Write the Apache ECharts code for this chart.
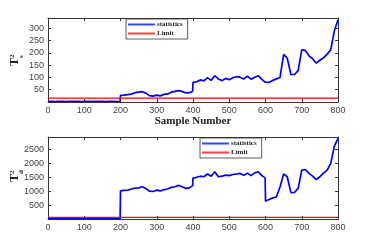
<!DOCTYPE html>
<html><head><meta charset="utf-8">
<script src="https://cdn.jsdelivr.net/npm/echarts@6/dist/echarts.min.js"></script>
<style>html,body{margin:0;padding:0;background:#fff}#c{width:374px;height:249px}</style>
</head><body><div id="c"></div>
<script>
var samples = [0,10,20,30,40,50,60,70,80,90,100,110,120,130,140,150,160,170,180,190,199,
200,210,220,230,240,250,260,270,280,290,300,310,320,330,340,350,360,370,380,390,399,
400,410,420,430,440,450,460,470,480,490,500,510,520,530,540,550,560,570,580,590,599,
600,610,620,630,640,650,660,670,680,690,700,710,720,730,740,750,760,770,780,790,800];
var tsValues = [3,3,2,3,3,2,3,3,3,2,3,3,2,3,3,3,2,3,3,2,3,
27,28,30,32,38,40,42,36,26,24,28,25,31,33,40,43,46,43,37,38,44,
80,82,90,86,99,88,107,94,87,96,91,99,103,101,94,105,93,101,107,92,81,
78,80,88,94,100,194,178,112,112,128,212,210,188,176,158,170,180,195,212,290,335];
var tdValues = [15,14,16,15,14,15,16,15,14,15,16,15,14,15,16,15,14,15,16,15,15,
1010,1030,1040,1080,1110,1120,1160,1100,1000,990,1040,1010,1060,1080,1140,1160,1210,1160,1100,1120,1200,
1470,1500,1540,1520,1620,1540,1700,1520,1540,1580,1560,1600,1620,1640,1570,1650,1560,1660,1700,1560,1480,
640,700,760,790,1150,1620,1520,950,960,1100,1760,1780,1640,1540,1420,1520,1650,1760,2000,2620,2900];
var tsLimit = 16;
var tdLimit = 60;
var xTicks = [0,800,100];
var legendNames = ['statistics','Limit'];

function pairs(xs, ys){ return xs.map(function(x,i){return [x, ys[i]];}); }
function limitLine(v){ return [[xTicks[0], v],[xTicks[1], v]]; }

var axisCol = '#333';
var labStyle = {fontSize: 9, color: '#444', fontFamily: 'Liberation Sans'};
function xAx(gi, showLabel, name){
  return {type:'value', gridIndex:gi, min:xTicks[0], max:xTicks[1], interval:xTicks[2],
    axisLine:{onZero:false, lineStyle:{color:axisCol}}, axisTick:{inside:true, length:3, lineStyle:{color:axisCol}},
    axisLabel:Object.assign({show:showLabel, margin:4}, labStyle), splitLine:{show:false},
    name:name||'', nameLocation:'middle', nameGap:12,
    nameTextStyle:{fontFamily:'Liberation Serif', fontWeight:'bold', fontSize:11, color:'#222'}};
}
function xTop(gi){
  var a = xAx(gi,false); a.position='top'; return a;
}
function yAx(gi, max, interval, show, pos){
  return {type:'value', gridIndex:gi, min:0, max:max, interval:interval, position:pos,
    axisLine:{show:true, onZero:false, lineStyle:{color:axisCol}}, axisTick:{show:true, inside:true, length:3, lineStyle:{color:axisCol}},
    axisLabel:Object.assign({show:show, margin:4, showMinLabel:false, showMaxLabel:false, formatter:function(v){return String(v);}}, labStyle), splitLine:{show:false}};
}
function ylabel(x, y, sub){
  return {type:'group', x:x, y:y, rotation:Math.PI/2, children:[
    {type:'text', x:0, y:0, style:{text:'T', font:'bold 12px "Liberation Serif"', fill:'#222', textVerticalAlign:'middle', textAlign:'left'}},
    {type:'text', x:8, y:-3, style:{text:'2', font:'bold 7px "Liberation Serif"', fill:'#222', textVerticalAlign:'middle', textAlign:'left'}},
    {type:'text', x:8, y:6, style:{text:sub, font:'bold 7px "Liberation Serif"', fill:'#222', textVerticalAlign:'middle', textAlign:'left'}}
  ]};
}
function legend(gi, left, top){
  return {show:true, orient:'vertical', left:left, top:top, itemWidth:27, itemHeight:2, itemGap:2,
    icon:'rect', borderColor:'#333', borderWidth:0.8, padding:[2,5,2,2], backgroundColor:'#fff',
    textStyle:{fontFamily:'Liberation Serif', fontWeight:'bold', fontSize:7, color:'#222', padding:[0,0,0,-3], lineHeight:7},
    data: gi===0 ? ['s0','l0'] : ['s1','l1'],
    formatter:function(n){ return n.charAt(0)==='s' ? legendNames[0] : legendNames[1]; }};
}
var chart = echarts.init(document.getElementById('c'), null, {renderer:'canvas'});
chart.setOption({
  animation:false,
  grid:[{left:48, top:18, width:290, height:84},{left:48, top:137, width:290, height:82}],
  xAxis:[xAx(0,true,'Sample Number'), xTop(0), xAx(1,true), xTop(1)],
  yAxis:[yAx(0,342,50,true,'left'), yAx(0,342,50,false,'right'), yAx(1,2950,500,true,'left'), yAx(1,2950,500,false,'right')],
  legend:[legend(0,126,19), legend(1,200,138)],
  graphic: [ylabel(15,66,'s'), ylabel(15,182,'d')],
  series:[
    {name:'s0', type:'line', xAxisIndex:0, yAxisIndex:0, data:pairs(samples, tsValues), showSymbol:false, lineStyle:{color:'#0000ff', width:1.7}, itemStyle:{color:'#3344ff'}},
    {name:'l0', type:'line', xAxisIndex:0, yAxisIndex:0, data:limitLine(tsLimit), showSymbol:false, lineStyle:{color:'#ff0000', width:1.2}, itemStyle:{color:'#ff4040'}},
    {name:'s1', type:'line', xAxisIndex:2, yAxisIndex:2, data:pairs(samples, tdValues), showSymbol:false, lineStyle:{color:'#0000ff', width:1.7}, itemStyle:{color:'#3344ff'}},
    {name:'l1', type:'line', xAxisIndex:2, yAxisIndex:2, data:limitLine(tdLimit), showSymbol:false, lineStyle:{color:'#ff0000', width:1.2}, itemStyle:{color:'#ff4040'}}
  ]
});
</script></body></html>
